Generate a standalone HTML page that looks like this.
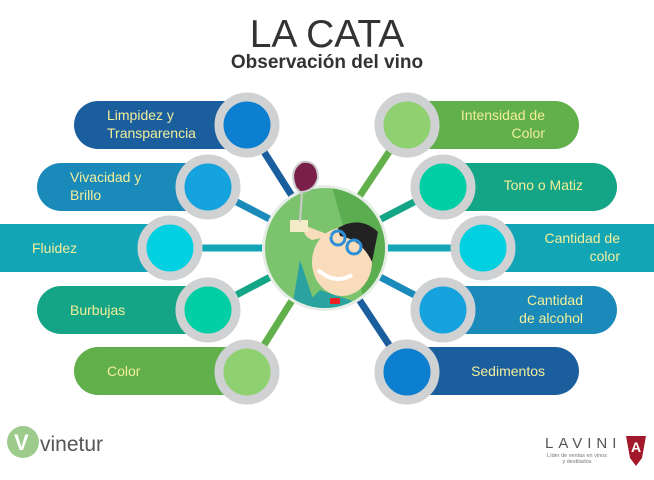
<!DOCTYPE html>
<html><head><meta charset="utf-8"><style>
html,body{margin:0;padding:0;background:#fff;}
svg{display:block;}
text{font-family:"Liberation Sans",sans-serif;}
</style></head><body>
<svg width="654" height="480" viewBox="0 0 654 480" xmlns="http://www.w3.org/2000/svg">
<text x="327" y="47" text-anchor="middle" font-size="39" fill="#333">LA CATA</text>
<text x="327" y="68" text-anchor="middle" font-size="19" font-weight="bold" fill="#333">Observación del vino</text>

<!-- connectors -->
<g stroke-width="7">
<line x1="247" y1="125" x2="325" y2="248" stroke="#1a5e9e"/>
<line x1="208" y1="187" x2="325" y2="248" stroke="#1a8aba"/>
<line x1="170" y1="248" x2="325" y2="248" stroke="#12a5b5"/>
<line x1="208" y1="310" x2="325" y2="248" stroke="#13a586"/>
<line x1="247" y1="372" x2="325" y2="248" stroke="#62b04b"/>
<line x1="407" y1="125" x2="325" y2="248" stroke="#62b04b"/>
<line x1="443" y1="187" x2="325" y2="248" stroke="#13a586"/>
<line x1="483" y1="248" x2="325" y2="248" stroke="#12a5b5"/>
<line x1="443" y1="310" x2="325" y2="248" stroke="#1a8aba"/>
<line x1="407" y1="372" x2="325" y2="248" stroke="#1a5e9e"/>
</g>

<!-- left pills -->
<rect x="74" y="101" width="190" height="48" rx="24" fill="#1a5e9e"/>
<rect x="37" y="163" width="190" height="48" rx="24" fill="#1a8aba"/>
<rect x="-30" y="224" width="220" height="48" rx="24" fill="#12a5b5"/>
<rect x="37" y="286" width="190" height="48" rx="24" fill="#13a586"/>
<rect x="74" y="347" width="190" height="48" rx="24" fill="#62b04b"/>
<!-- right pills -->
<rect x="390" y="101" width="189" height="48" rx="24" fill="#62b04b"/>
<rect x="427" y="163" width="190" height="48" rx="24" fill="#13a586"/>
<rect x="465" y="224" width="220" height="48" rx="24" fill="#12a5b5"/>
<rect x="427" y="286" width="190" height="48" rx="24" fill="#1a8aba"/>
<rect x="390" y="347" width="189" height="48" rx="24" fill="#1a5e9e"/>

<!-- circles -->
<g stroke="#cfd1d3" stroke-width="9">
<circle cx="247" cy="125" r="28" fill="#0c7fd0"/>
<circle cx="208" cy="187" r="28" fill="#14a3de"/>
<circle cx="170" cy="248" r="28" fill="#00d0e0"/>
<circle cx="208" cy="310" r="28" fill="#00cfa5"/>
<circle cx="247" cy="372" r="28" fill="#8fd070"/>
<circle cx="407" cy="125" r="28" fill="#8fd070"/>
<circle cx="443" cy="187" r="28" fill="#00cfa5"/>
<circle cx="483" cy="248" r="28" fill="#00d0e0"/>
<circle cx="443" cy="310" r="28" fill="#14a3de"/>
<circle cx="407" cy="372" r="28" fill="#0c7fd0"/>
</g>

<!-- labels -->
<g font-size="14" fill="#f3ee9a">
<text x="107" y="120">Limpidez y</text>
<text x="107" y="138">Transparencia</text>
<text x="70" y="182">Vivacidad y</text>
<text x="70" y="200">Brillo</text>
<text x="32" y="253">Fluidez</text>
<text x="70" y="315">Burbujas</text>
<text x="107" y="376">Color</text>
<g text-anchor="end">
<text x="545" y="120">Intensidad de</text>
<text x="545" y="138">Color</text>
<text x="583" y="190">Tono o Matiz</text>
<text x="620" y="243">Cantidad de</text>
<text x="620" y="261">color</text>
<text x="583" y="305">Cantidad</text>
<text x="583" y="323">de alcohol</text>
<text x="545" y="376">Sedimentos</text>
</g>
</g>

<!-- central figure -->
<defs><clipPath id="cc"><circle cx="325" cy="248" r="60"/></clipPath></defs>
<circle cx="325" cy="248" r="63" fill="#e6ece6"/>
<g clip-path="url(#cc)">
<rect x="260" y="180" width="140" height="140" fill="#7cc36e"/>
<polygon points="330,180 400,180 400,320 370,320" fill="#5aae4f"/>
<polygon points="290,320 320,290 350,300 380,320" fill="#2aa3a0"/>
<path d="M300,260 L290,320 L320,320 Z" fill="#2aa3a0"/>
<ellipse cx="342" cy="262" rx="30" ry="34" fill="#f8dcbc"/>
<path d="M338,228 Q360,215 378,232 L372,262 Q362,240 340,236 Z" fill="#222"/>
<circle cx="338" cy="238" r="7" fill="none" stroke="#2a8fd8" stroke-width="3"/>
<circle cx="354" cy="247" r="7" fill="none" stroke="#2a8fd8" stroke-width="3"/>
<path d="M312,240 Q300,234 306,226 L332,236 Z" fill="#f8dcbc"/>
<path d="M318,270 Q335,285 352,275" stroke="#fff" stroke-width="4" fill="none"/>
<rect x="330" y="298" width="10" height="6" fill="#e22"/>
<rect x="290" y="220" width="18" height="12" fill="#f4ecc8"/>
</g>
<path d="M296,188 Q288,170 302,162 Q318,160 318,178 Q314,192 300,192 Z" fill="#7a1f4a" stroke="#ccc" stroke-width="2"/>
<line x1="302" y1="192" x2="300" y2="222" stroke="#ccc" stroke-width="2"/>

<!-- logos -->
<circle cx="23" cy="442" r="16" fill="#9ccb8c"/>
<text x="14" y="450" font-size="22" font-weight="bold" fill="#fff">V</text>
<text x="40" y="451" font-size="21" fill="#555">vinetur</text>
<text x="545" y="448" font-size="15" letter-spacing="5" fill="#555">LAVINI</text>
<path d="M626,436 L646,436 L642,458 L636,466 L630,458 Z" fill="#a3182a"/>
<text x="636" y="452" text-anchor="middle" font-size="14" font-weight="bold" fill="#fff">A</text>
<text x="577" y="457" text-anchor="middle" font-size="5.5" fill="#777">Líder de ventas en vinos</text>
<text x="577" y="463" text-anchor="middle" font-size="5.5" fill="#777">y destilados</text>
</svg>
</body></html>
